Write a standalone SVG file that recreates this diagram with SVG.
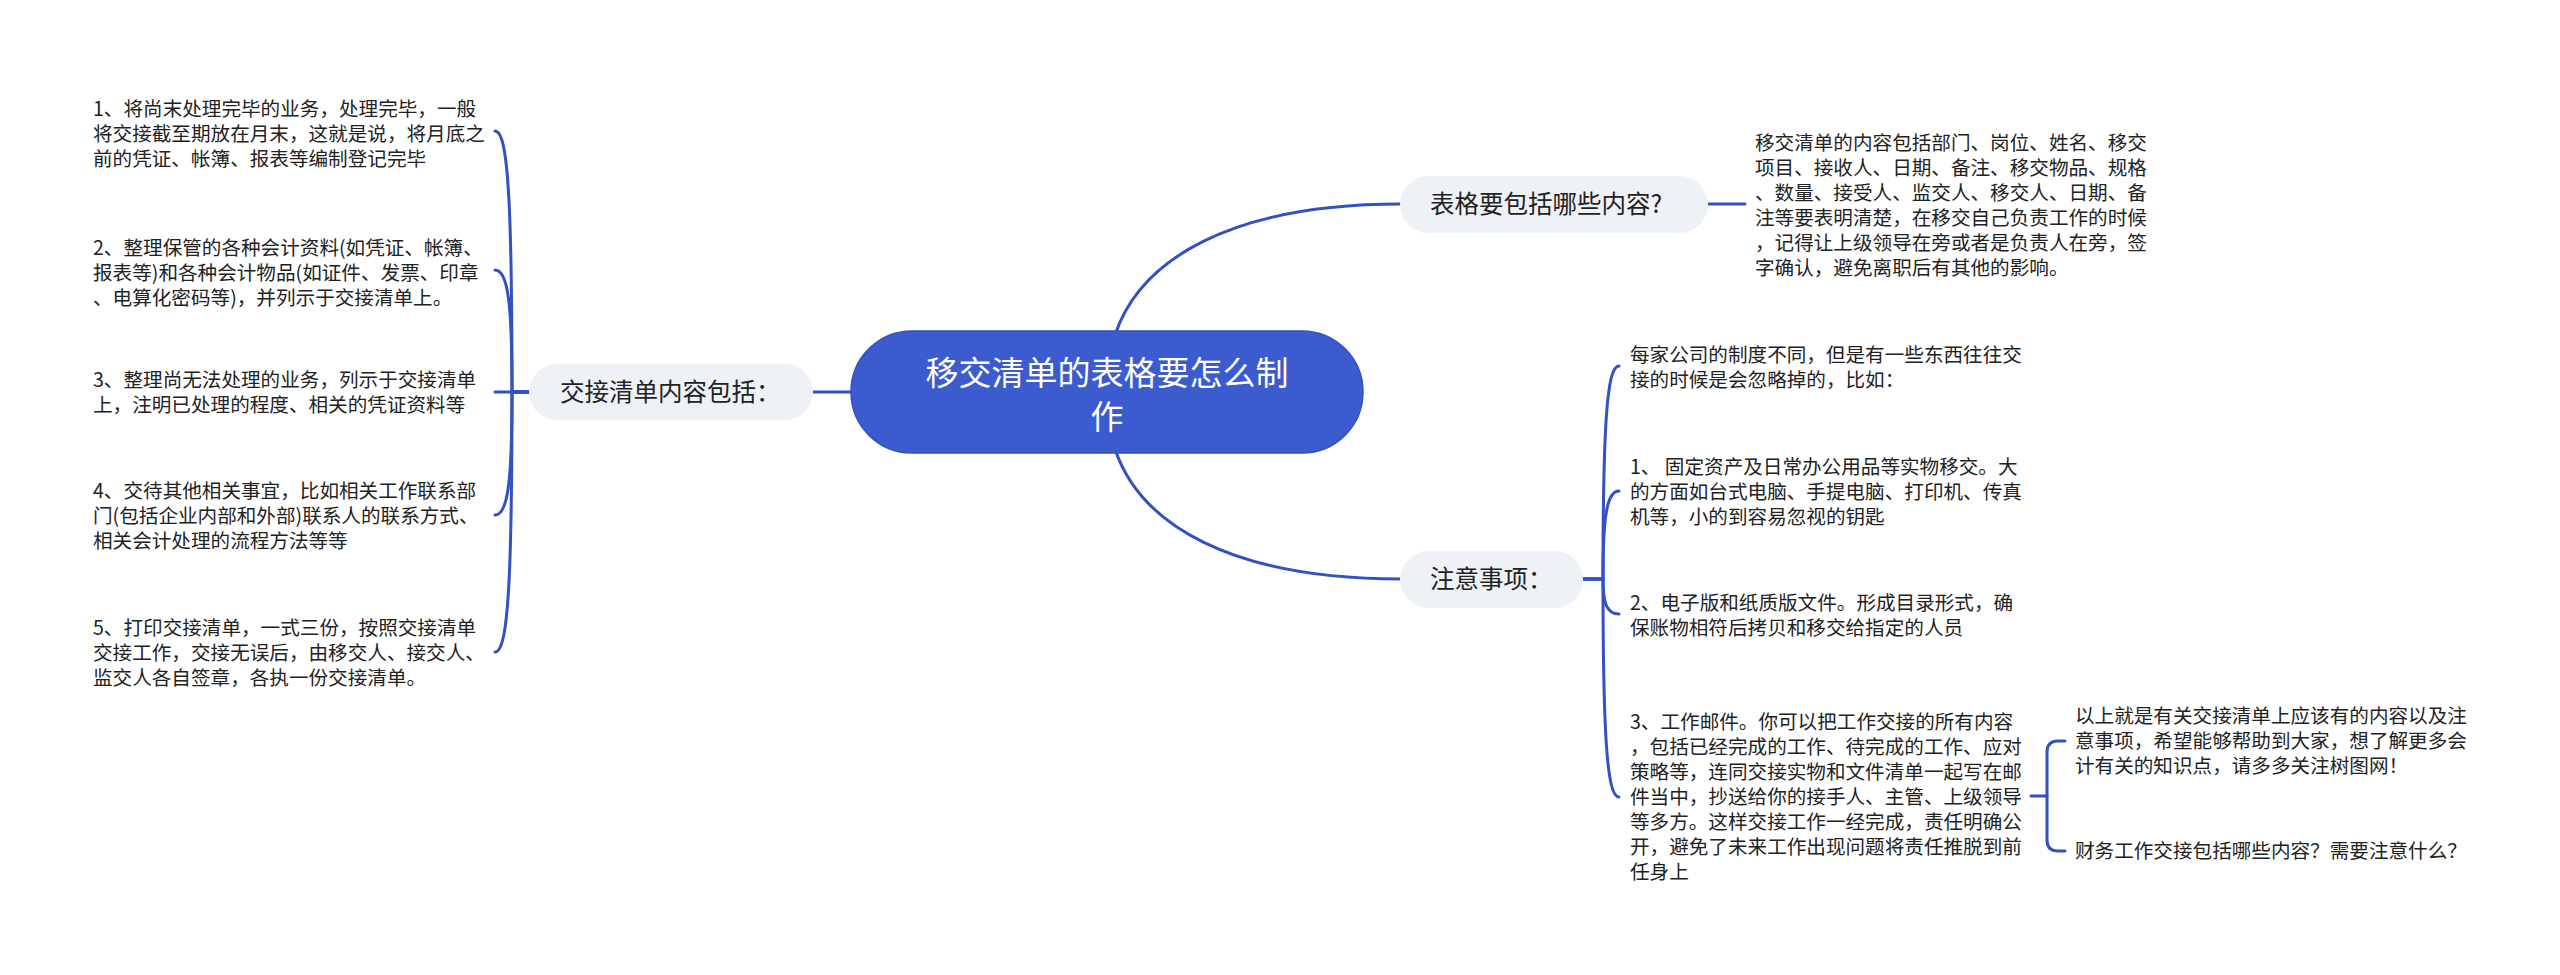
<svg xmlns="http://www.w3.org/2000/svg" width="2560" height="975" viewBox="0 0 2560 975">
<style>
.t{font-family:"Noto Sans CJK SC","Noto Sans",sans-serif;font-size:19.6px;fill:#222;}
.n1{font-family:"Noto Sans CJK SC","Noto Sans",sans-serif;font-size:24.5px;fill:#222;}
.root{font-family:"Noto Sans CJK SC","Noto Sans",sans-serif;font-size:33px;fill:#fff;}
.c{fill:none;stroke:#3251C2;stroke-width:3;stroke-linecap:round;}
.b1{fill:#EEF1F5;}
</style>
<rect width="2560" height="975" fill="#fff"/>
<g id="connectors">
<path class="c" d="M1115 335 C1140 260 1230 204 1401 204"/>
<path class="c" d="M1115 449 C1140 524 1230 579 1401 579"/>
<path class="c" d="M851 392 H813"/>
<path class="c" d="M529 392 H495"/>
<path class="c" d="M529 392 H512 C512 201 508 131 495 131"/>
<path class="c" d="M529 392 H512 C512 303 508 270 495 270"/>
<path class="c" d="M529 392 H512 C512 481 508 515 495 515"/>
<path class="c" d="M529 392 H512 C512 581 508 652 495 652"/>
<path class="c" d="M1708 204 H1745"/>
<path class="c" d="M1583 579 H1603 C1603 424 1607 366 1619 366"/>
<path class="c" d="M1583 579 H1603 C1603 515 1607 491 1619 491"/>
<path class="c" d="M1583 579 H1603 C1603 604 1607 614 1619 614"/>
<path class="c" d="M1583 579 H1603 C1603 735 1607 797 1619 797"/>
<path class="c" d="M2031 796 H2047"/>
<path class="c" d="M2065 741 H2058 Q2047 741 2047 752 V840 Q2047 851 2058 851 H2065"/>
</g>
<g id="root">
<rect x="851" y="331" width="512" height="122" rx="61" fill="#3C5BCF" stroke="#3450BE" stroke-width="1.5"/>
<text class="root" x="1107" y="385" text-anchor="middle">移交清单的表格要怎么制</text>
<text class="root" x="1107" y="429" text-anchor="middle">作</text>
</g>
<g id="node-table">
<rect class="b1" x="1400" y="176" width="308" height="57" rx="28.5"/>
<text class="n1" x="1430" y="213">表格要包括哪些内容?</text>
</g>
<g id="node-table-text">
<text class="t" x="1755" y="150">移交清单的内容包括部门、岗位、姓名、移交</text>
<text class="t" x="1755" y="175">项目、接收人、日期、备注、移交物品、规格</text>
<text class="t" x="1755" y="200">、数量、接受人、监交人、移交人、日期、备</text>
<text class="t" x="1755" y="225">注等要表明清楚，在移交自己负责工作的时候</text>
<text class="t" x="1755" y="250">，记得让上级领导在旁或者是负责人在旁，签</text>
<text class="t" x="1755" y="275">字确认，避免离职后有其他的影响。</text>
</g>
<g id="node-notes">
<rect class="b1" x="1400" y="551" width="183" height="57" rx="28.5"/>
<text class="n1" x="1430" y="588">注意事项：</text>
</g>
<g id="note-0">
<text class="t" x="1630" y="362">每家公司的制度不同，但是有一些东西往往交</text>
<text class="t" x="1630" y="387">接的时候是会忽略掉的，比如：</text>
</g>
<g id="note-1">
<text class="t" x="1630" y="474">1、 固定资产及日常办公用品等实物移交。大</text>
<text class="t" x="1630" y="499">的方面如台式电脑、手提电脑、打印机、传真</text>
<text class="t" x="1630" y="524">机等，小的到容易忽视的钥匙</text>
</g>
<g id="note-2">
<text class="t" x="1630" y="610">2、电子版和纸质版文件。形成目录形式，确</text>
<text class="t" x="1630" y="635">保账物相符后拷贝和移交给指定的人员</text>
</g>
<g id="note-3">
<text class="t" x="1630" y="729">3、工作邮件。你可以把工作交接的所有内容</text>
<text class="t" x="1630" y="754">，包括已经完成的工作、待完成的工作、应对</text>
<text class="t" x="1630" y="779">策略等，连同交接实物和文件清单一起写在邮</text>
<text class="t" x="1630" y="804">件当中，抄送给你的接手人、主管、上级领导</text>
<text class="t" x="1630" y="829">等多方。这样交接工作一经完成，责任明确公</text>
<text class="t" x="1630" y="854">开，避免了未来工作出现问题将责任推脱到前</text>
<text class="t" x="1630" y="879">任身上</text>
</g>
<g id="note-3-a">
<text class="t" x="2075" y="723">以上就是有关交接清单上应该有的内容以及注</text>
<text class="t" x="2075" y="748">意事项，希望能够帮助到大家，想了解更多会</text>
<text class="t" x="2075" y="773">计有关的知识点，请多多关注树图网！</text>
</g>
<g id="note-3-b">
<text class="t" x="2075" y="858">财务工作交接包括哪些内容？需要注意什么？</text>
</g>
<g id="node-handover">
<rect class="b1" x="529" y="364" width="284" height="56" rx="28"/>
<text class="n1" x="560" y="401">交接清单内容包括：</text>
</g>
<g id="handover-1">
<text class="t" x="93" y="116">1、将尚末处理完毕的业务，处理完毕，一般</text>
<text class="t" x="93" y="141">将交接截至期放在月末，这就是说，将月底之</text>
<text class="t" x="93" y="166">前的凭证、帐簿、报表等编制登记完毕</text>
</g>
<g id="handover-2">
<text class="t" x="93" y="255">2、整理保管的各种会计资料(如凭证、帐簿、</text>
<text class="t" x="93" y="280">报表等)和各种会计物品(如证件、发票、印章</text>
<text class="t" x="93" y="305">、电算化密码等)，并列示于交接清单上。</text>
</g>
<g id="handover-3">
<text class="t" x="93" y="387">3、整理尚无法处理的业务，列示于交接清单</text>
<text class="t" x="93" y="412">上，注明已处理的程度、相关的凭证资料等</text>
</g>
<g id="handover-4">
<text class="t" x="93" y="498">4、交待其他相关事宜，比如相关工作联系部</text>
<text class="t" x="93" y="523">门(包括企业内部和外部)联系人的联系方式、</text>
<text class="t" x="93" y="548">相关会计处理的流程方法等等</text>
</g>
<g id="handover-5">
<text class="t" x="93" y="635">5、打印交接清单，一式三份，按照交接清单</text>
<text class="t" x="93" y="660">交接工作，交接无误后，由移交人、接交人、</text>
<text class="t" x="93" y="685">监交人各自签章，各执一份交接清单。</text>
</g>
</svg>
